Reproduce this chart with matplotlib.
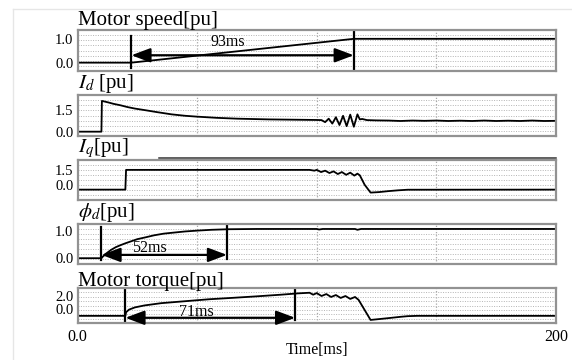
import numpy as np
import matplotlib
matplotlib.use("Agg")
import matplotlib.pyplot as plt
from matplotlib.lines import Line2D

plt.rcParams["font.family"] = ["Liberation Serif", "DejaVu Serif"]
plt.rcParams["mathtext.fontset"] = "stix"

# time axis [ms]
t_ticks = [0, 100, 200]
t_tick_labels = ["0.0", "100", "200"]

# motor speed [pu]
speed_t = [0, 22.5, 115.5, 200]
speed_v = [0, 0, 1.0, 1.0]

# Id [pu]
id_t = [0, 10, 10.2, 11, 13, 15, 17.9, 21, 24, 28.6, 33, 39.3, 45, 50, 58, 66.8, 80, 90,
        100, 102, 103.5, 105, 106.5, 108, 109.5, 111, 112.5, 114, 115.5, 117, 118, 119,
        121, 125, 130, 135, 140, 145, 150, 155, 160, 165, 170, 175, 180, 185, 190, 195, 200]
id_v = [0, 0, 2.13, 2.1, 2.02, 1.93, 1.83, 1.7, 1.6, 1.48, 1.36, 1.2, 1.1, 1.04, 0.96, 0.9, 0.85, 0.83,
        0.81, 0.8, 0.66, 0.9, 0.56, 1.0, 0.46, 1.1, 0.38, 1.18, 0.34, 1.2, 0.85, 0.88,
        0.8, 0.78, 0.77, 0.74, 0.77, 0.75, 0.77, 0.74, 0.76, 0.74, 0.77, 0.74, 0.76, 0.74, 0.77, 0.74, 0.75]

# Iq [pu]
iq_t = [0, 20, 20.3, 97, 99, 100, 101.8, 103.5, 105.3, 107, 108.8, 110.5, 112.3, 114, 115.7,
        117, 118, 120, 122.5, 126, 130, 134, 138, 200]
iq_v = [-0.5, -0.5, 1.5, 1.5, 1.42, 1.5, 1.28, 1.42, 1.18, 1.35, 1.08, 1.28, 1.0, 1.22, 0.92,
        1.12, 0.95, 0.0, -0.8, -0.75, -0.65, -0.57, -0.51, -0.5]

# phi_d [pu]
phi_t = [0, 10, 10.5, 12, 14, 16, 17.9, 20, 22, 25, 28.6, 32, 36, 39.3, 45, 50, 56, 63, 75,
         100, 101, 102.5, 116, 117, 118.5, 200]
phi_v = [0, 0, 0.05, 0.17, 0.3, 0.4, 0.47, 0.54, 0.6, 0.69, 0.76, 0.83, 0.89, 0.92, 0.97, 1.0,
         1.03, 1.05, 1.06, 1.06, 1.04, 1.06, 1.06, 1.03, 1.06, 1.06]

# motor torque [pu]
tq_t = [0, 20, 20.3, 21.5, 24, 28, 35, 45, 55, 65, 75, 85, 92, 97, 98.5, 100, 102, 104, 106,
        108, 110, 112, 114, 116, 117.5, 122.5, 126, 130, 135, 138, 142, 200]
tq_v = [-1.05, -1.05, -0.5, -0.1, 0.25, 0.55, 0.9, 1.2, 1.5, 1.72, 1.95, 2.2, 2.4, 2.5, 2.2, 2.45,
        2.0, 2.3, 1.85, 2.15, 1.7, 2.0, 1.55, 1.85, 1.4, -1.68, -1.55, -1.4, -1.2, -1.1, -1.05, -1.05]

# time spans marked on the chart [ms]
speed_span = (22.5, 115.5, "93ms")
phi_span = (10, 62.5, "52ms")
tq_span = (20, 91, "71ms")

W, H = 572, 360
fig = plt.figure(figsize=(W / 100, H / 100), dpi=100)
x0, x1 = 77.5, 556


def make_ax(top, bottom, ylim, yticks, ylabels, title):
    ax = fig.add_axes([x0 / W, 1 - bottom / H, (x1 - x0) / W, (bottom - top) / H])
    ax.set_xlim(0, 200)
    ax.set_ylim(*ylim)
    ax.set_yticks(yticks)
    ax.set_yticklabels(ylabels, fontsize=10.5)
    ax.set_yticks(np.linspace(ylim[0], ylim[1], 9)[1:-1], minor=True)
    ax.set_xticks([50, 100, 150])
    ax.tick_params(which="both", length=0, pad=3)
    ax.tick_params(axis="x", labelbottom=False)
    ax.grid(True, axis="y", which="minor", color="#b4b4b4", ls=(0, (1, 1.5)), lw=0.7)
    ax.grid(True, axis="x", which="major", color="#a8a8a8", ls=(0, (1, 1.5)), lw=0.9)
    for s in ax.spines.values():
        s.set_color("#929292")
        s.set_linewidth(1.6)
    ax.set_title(title, loc="left", fontsize=15, pad=1.5, x=0.002)
    return ax


def mark_span(ax, span, y_arrow, y_text, ylo, yhi):
    a, b, label = span
    ax.plot([a, a], [ylo[0], yhi[0]], color="k", lw=1.6)
    ax.plot([b, b], [ylo[1], yhi[1]], color="k", lw=1.6)
    ax.annotate("", xy=(a, y_arrow), xytext=(b, y_arrow),
                arrowprops=dict(arrowstyle="<|-|>,head_length=1.15,head_width=0.43",
                                color="k", lw=1.6, shrinkA=0, shrinkB=0))
    ax.text((a + b) / 2 - 6, y_text, label, ha="center", va="center", fontsize=11.5)


ax1 = make_ax(30, 71, (-0.35, 1.37), [0, 1], ["0.0", "1.0"], "Motor speed[pu]")
ax1.plot(speed_t, speed_v, color="k", lw=1.3)
mark_span(ax1, speed_span, 0.31, 0.85, (-0.21, -0.28), (1.13, 1.27))

ax2 = make_ax(95, 136, (-0.3, 2.54), [0, 1.5], ["0.0", "1.5"], "$I_d$ [pu]")
ax2.plot(id_t, id_v, color="k", lw=1.3)

ax3 = make_ax(160, 200, (-1.55, 2.5), [0, 1.5], ["0.0", "1.5"], "$I_q$[pu]")
ax3.plot(iq_t, iq_v, color="k", lw=1.3)
ax3.plot([0.17, 1], [1.06, 1.06], transform=ax3.transAxes, color="#333333", lw=1.1, clip_on=False)

ax4 = make_ax(224, 264, (-0.21, 1.24), [0, 1], ["0.0", "1.0"], "$\\phi_d$[pu]")
ax4.plot(phi_t, phi_v, color="k", lw=1.3)
mark_span(ax4, phi_span, 0.12, 0.36, (-0.05, -0.03), (1.12, 1.2))

ax5 = make_ax(288, 323, (-2.15, 3.23), [0, 2], ["0.0", "2.0"], "Motor torque[pu]")
ax5.plot(tq_t, tq_v, color="k", lw=1.3)
mark_span(ax5, tq_span, -1.35, -0.45, (-1.9, -1.7), (3.1, 3.05))
ax5.set_xticks(t_ticks, minor=True)
ax5.set_xticklabels(t_tick_labels, minor=True, fontsize=11.5)
ax5.tick_params(axis="x", which="minor", labelbottom=True, length=0, pad=4)
ax5.set_xlabel("Time[ms]", fontsize=11.5, labelpad=-2)

# faint scan border
fig.add_artist(Line2D([13 / W, 13 / W], [0, 1 - 9 / H], color="#e6e6e6", lw=1))
fig.add_artist(Line2D([13 / W, 1], [1 - 9 / H, 1 - 9 / H], color="#e6e6e6", lw=1))

fig.savefig("out.png", dpi=100)
